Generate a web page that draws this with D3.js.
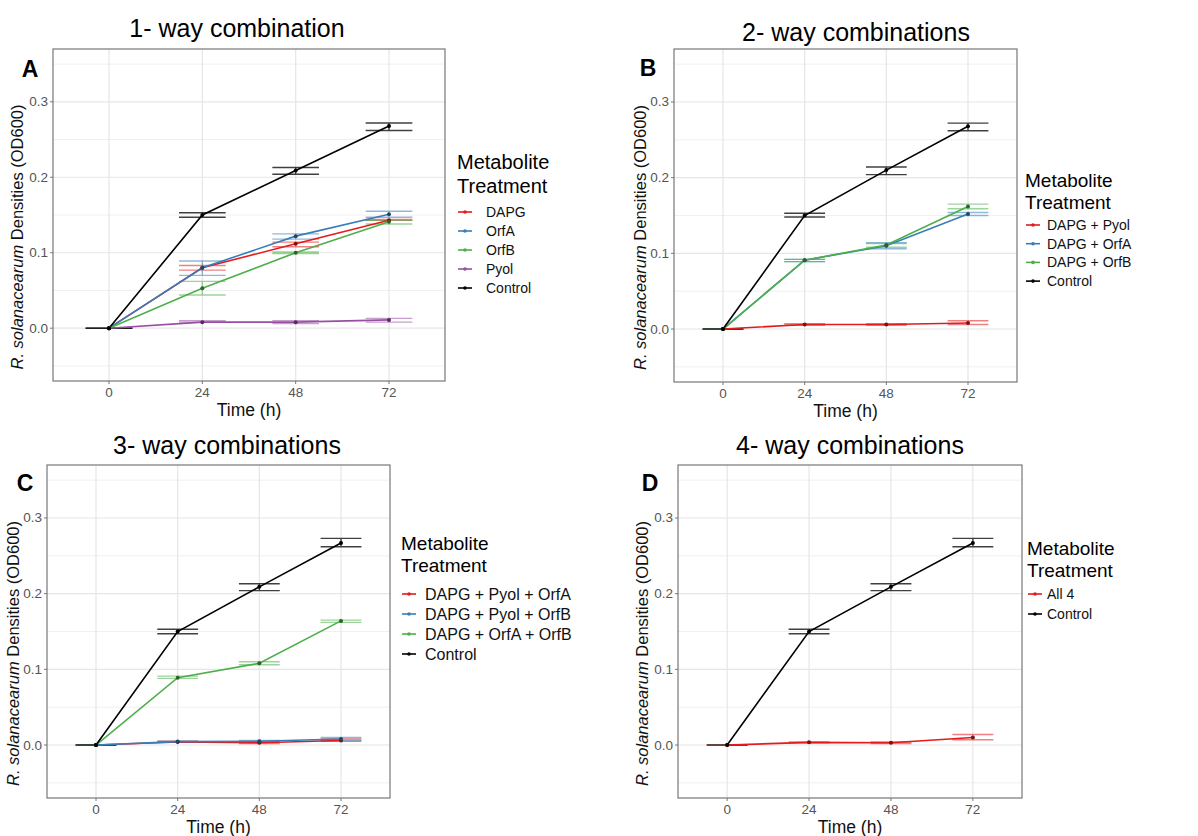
<!DOCTYPE html>
<html lang="en">
  <head>
    <meta charset="utf-8">
    <title>Metabolite combinations</title>
    <script src="https://cdn.jsdelivr.net/npm/d3@7"></script>
    <style>
      body { margin: 0; background: #fff; }
      text { font-family: 'Liberation Sans', Arial, sans-serif; }
    </style>
  </head>

  <body>
    <div id='chart'></div>

    <script type='text/javascript'>
      // shared axis values
      let times = ['0', '24', '48', '72'];
      let yTicks = [0, 0.1, 0.2, 0.3];
      let yMinor = [-0.05, 0.05, 0.15, 0.25, 0.35];

      let red = '#E41A1C', blue = '#377EB8', green = '#4DAF4A', purple = '#984EA3', black = '#000000';

      // panel A: 1-way
      let namesA = ['DAPG', 'OrfA', 'OrfB', 'Pyol', 'Control'];
      let colorsA = [red, blue, green, purple, black];
      let meanA = [[0, 0.080, 0.112, 0.143], [0, 0.080, 0.122, 0.151], [0, 0.053, 0.100, 0.141], [0, 0.008, 0.008, 0.011], [0, 0.150, 0.209, 0.268]];
      let lowA  = [[0, 0.077, 0.108, 0.143], [0, 0.070, 0.118, 0.147], [0, 0.044, 0.099, 0.138], [0, 0.008, 0.006, 0.008], [0, 0.147, 0.204, 0.262]];
      let highA = [[0, 0.083, 0.114, 0.144], [0, 0.089, 0.125, 0.155], [0, 0.062, 0.101, 0.143], [0, 0.010, 0.010, 0.013], [0, 0.153, 0.213, 0.272]];

      // panel B: 2-way
      let namesB = ['DAPG + Pyol', 'DAPG + OrfA', 'DAPG + OrfB', 'Control'];
      let colorsB = [red, blue, green, black];
      let meanB = [[0, 0.006, 0.006, 0.008], [0, 0.091, 0.110, 0.152], [0, 0.091, 0.111, 0.162], [0, 0.150, 0.210, 0.268]];
      let lowB  = [[0, 0.005, 0.005, 0.006], [0, 0.089, 0.106, 0.150], [0, 0.089, 0.108, 0.159], [0, 0.148, 0.204, 0.262]];
      let highB = [[0, 0.007, 0.007, 0.011], [0, 0.092, 0.114, 0.154], [0, 0.092, 0.113, 0.165], [0, 0.153, 0.214, 0.272]];

      // panel C: 3-way
      let namesC = ['DAPG + Pyol + OrfA', 'DAPG + Pyol + OrfB', 'DAPG + OrfA + OrfB', 'Control'];
      let colorsC = [red, blue, green, black];
      let meanC = [[0, 0.004, 0.003, 0.006], [0, 0.0045, 0.005, 0.008], [0, 0.089, 0.108, 0.164], [0, 0.150, 0.209, 0.267]];
      let lowC  = [[0, 0.004, 0.002, 0.005], [0, 0.004, 0.004, 0.006], [0, 0.088, 0.106, 0.162], [0, 0.147, 0.204, 0.262]];
      let highC = [[0, 0.005, 0.004, 0.008], [0, 0.005, 0.006, 0.010], [0, 0.091, 0.110, 0.165], [0, 0.153, 0.213, 0.273]];

      // panel D: 4-way
      let namesD = ['All 4', 'Control'];
      let colorsD = [red, black];
      let meanD = [[0, 0.0035, 0.003, 0.010], [0, 0.150, 0.209, 0.267]];
      let lowD  = [[0, 0.003, 0.002, 0.007], [0, 0.147, 0.204, 0.262]];
      let highD = [[0, 0.004, 0.004, 0.014], [0, 0.153, 0.213, 0.273]];

      let svg = d3.select('#chart').append('svg')
        .attr('width', 1198)
        .attr('height', 836)

      function panel(cfg) {
        let g = svg.append('g')
        let x = d3.scalePoint().domain(times).range([cfg.x0, cfg.x1]).padding(0.6)
        let y = d3.scaleLinear().domain([-0.07, 0.37]).range([cfg.y1, cfg.y0])
        let half = x.step() * 0.25

        // grid
        g.selectAll('.minor').data(yMinor).enter().append('line')
          .attr('x1', cfg.x0).attr('x2', cfg.x1)
          .attr('y1', (d) => y(d)).attr('y2', (d) => y(d))
          .attr('stroke', '#f0f0f0').attr('stroke-width', 1)
        g.selectAll('.major').data(yTicks).enter().append('line')
          .attr('x1', cfg.x0).attr('x2', cfg.x1)
          .attr('y1', (d) => y(d)).attr('y2', (d) => y(d))
          .attr('stroke', '#e6e6e6').attr('stroke-width', 1.2)
        g.selectAll('.vmajor').data(times).enter().append('line')
          .attr('x1', (d) => x(d)).attr('x2', (d) => x(d))
          .attr('y1', cfg.y0).attr('y2', cfg.y1)
          .attr('stroke', '#e6e6e6').attr('stroke-width', 1.2)

        let series = cfg.names.map((n, i) => ({
          name: n, color: cfg.colors[i],
          pts: times.map((t, j) => ({ t: t, m: cfg.mean[i][j], lo: cfg.low[i][j], hi: cfg.high[i][j] }))
        }))

        // error bars
        series.forEach((s) => {
          g.selectAll(null).data(s.pts).enter().append('path')
            .attr('d', (d) => 'M' + (x(d.t) - half) + ',' + y(d.hi) + 'H' + (x(d.t) + half) +
              'M' + x(d.t) + ',' + y(d.hi) + 'V' + y(d.lo) +
              'M' + (x(d.t) - half) + ',' + y(d.lo) + 'H' + (x(d.t) + half))
            .attr('fill', 'none')
            .attr('stroke', s.color)
            .attr('stroke-width', 1.4)
            .attr('opacity', s.color == black ? 0.75 : 0.55)
        })

        let line = d3.line().x((d) => x(d.t)).y((d) => y(d.m))
        series.forEach((s) => {
          g.append('path').datum(s.pts)
            .attr('d', line)
            .attr('fill', 'none')
            .attr('stroke', s.color)
            .attr('stroke-width', 1.6)
        })
        series.forEach((s) => {
          g.selectAll(null).data(s.pts).enter().append('circle')
            .attr('cx', (d) => x(d.t)).attr('cy', (d) => y(d.m))
            .attr('r', 2)
            .attr('fill', d3.color(s.color).darker(1.6))
        })

        // border
        g.append('rect')
          .attr('x', cfg.x0).attr('y', cfg.y0)
          .attr('width', cfg.x1 - cfg.x0).attr('height', cfg.y1 - cfg.y0)
          .attr('fill', 'none').attr('stroke', '#777').attr('stroke-width', 1.2)

        // axes ticks + labels
        g.selectAll('.yt').data(yTicks).enter().append('line')
          .attr('x1', cfg.x0 - 3).attr('x2', cfg.x0)
          .attr('y1', (d) => y(d)).attr('y2', (d) => y(d))
          .attr('stroke', '#777')
        g.selectAll('.yl').data(yTicks).enter().append('text')
          .attr('x', cfg.x0 - 5).attr('y', (d) => y(d) + 4.5)
          .attr('text-anchor', 'end')
          .attr('font-size', '13.5px').attr('fill', '#555')
          .text((d) => d3.format('.1f')(d))
        g.selectAll('.xt').data(times).enter().append('line')
          .attr('x1', (d) => x(d)).attr('x2', (d) => x(d))
          .attr('y1', cfg.y1).attr('y2', cfg.y1 + 3)
          .attr('stroke', '#777')
        g.selectAll('.xl').data(times).enter().append('text')
          .attr('x', (d) => x(d)).attr('y', cfg.y1 + 16)
          .attr('text-anchor', 'middle')
          .attr('font-size', '13.5px').attr('fill', '#555')
          .text((d) => d)

        // axis titles
        g.append('text')
          .attr('x', (cfg.x0 + cfg.x1) / 2).attr('y', cfg.y1 + 35)
          .attr('text-anchor', 'middle').attr('font-size', '17.5px').attr('fill', '#111')
          .text('Time (h)')
        let yl = g.append('text')
          .attr('transform', 'translate(' + cfg.ylx + ',' + ((cfg.y0 + cfg.y1) / 2 + 22) + ') rotate(-90)')
          .attr('text-anchor', 'middle').attr('font-size', '16.5px').attr('fill', '#111')
        yl.append('tspan').attr('font-style', 'italic').text('R. solanacearum')
        yl.append('tspan').text(' Densities (OD600)')

        // title and letter
        g.append('text')
          .attr('x', cfg.tx).attr('y', cfg.ty + 9)
          .attr('text-anchor', 'middle').attr('font-size', '25px').attr('fill', '#000')
          .text(cfg.title)
        g.append('text')
          .attr('x', cfg.lx).attr('y', cfg.ly + 8)
          .attr('text-anchor', 'middle').attr('font-size', '23px').attr('font-weight', 'bold')
          .attr('font-family', "'Open Sans', sans-serif")
          .text(cfg.letter)

        // legend
        let lg = g.append('g')
        lg.append('text').attr('x', cfg.legX).attr('y', cfg.legT + cfg.legTF * 0.35)
          .attr('font-size', cfg.legTF + 'px').text('Metabolite')
        lg.append('text').attr('x', cfg.legX).attr('y', cfg.legT + cfg.legTF * 1.2 + cfg.legTF * 0.35)
          .attr('font-size', cfg.legTF + 'px').text('Treatment')
        series.forEach((s, i) => {
          let yy = cfg.legI + i * cfg.legStep
          lg.append('line')
            .attr('x1', cfg.legX + 1).attr('x2', cfg.legX + 15)
            .attr('y1', yy).attr('y2', yy)
            .attr('stroke', s.color).attr('stroke-width', 1.6)
          lg.append('circle').attr('cx', cfg.legX + 8).attr('cy', yy).attr('r', 1.8)
            .attr('fill', s.color)
          lg.append('text').attr('x', cfg.legX + cfg.legLab).attr('y', yy + cfg.legF * 0.35)
            .attr('font-size', cfg.legF + 'px').attr('fill', '#111')
            .text(s.name)
        })
      }

      panel({ x0: 53, x1: 445, y0: 49, y1: 381, ylx: 23, title: '1- way combination', tx: 237, ty: 28, letter: 'A', lx: 30, ly: 69,
        names: namesA, colors: colorsA, mean: meanA, low: lowA, high: highA,
        legX: 457, legT: 162, legTF: 20, legI: 212, legStep: 19, legF: 14, legLab: 29 })
      panel({ x0: 674, x1: 1017, y0: 49, y1: 382, ylx: 646, title: '2- way combinations', tx: 856, ty: 32, letter: 'B', lx: 648, ly: 68,
        names: namesB, colors: colorsB, mean: meanB, low: lowB, high: highB,
        legX: 1025, legT: 180, legTF: 19, legI: 225, legStep: 18.7, legF: 14, legLab: 22 })
      panel({ x0: 47, x1: 390, y0: 465, y1: 798, ylx: 19, title: '3- way combinations', tx: 227, ty: 445, letter: 'C', lx: 25, ly: 483,
        names: namesC, colors: colorsC, mean: meanC, low: lowC, high: highC,
        legX: 401, legT: 543, legTF: 19, legI: 594, legStep: 20, legF: 16, legLab: 24 })
      panel({ x0: 678, x1: 1022, y0: 465, y1: 798, ylx: 648, title: '4- way combinations', tx: 850, ty: 445, letter: 'D', lx: 650, ly: 483,
        names: namesD, colors: colorsD, mean: meanD, low: lowD, high: highD,
        legX: 1027, legT: 548, legTF: 19, legI: 594, legStep: 20, legF: 14, legLab: 20 })
    </script>
  </body>
</html>
